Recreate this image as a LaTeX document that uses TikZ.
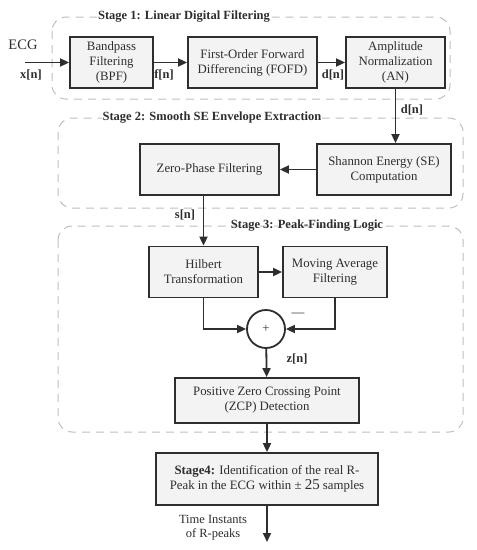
\documentclass[tikz,border=0pt]{standalone}
\usepackage{fontspec}
\setmainfont{Liberation Serif}
\usetikzlibrary{arrows.meta, positioning, calc}
\definecolor{cdark}{HTML}{2E2E2E}
\definecolor{cfill}{HTML}{F3F3F3}
\definecolor{cdash}{HTML}{BEBEBE}
\tikzset{
  every picture/.style={font=\fontsize{12.8}{15}\selectfont, line width=1.8pt, text=cdark},
  block/.style={draw=cdark, fill=cfill, align=center, inner sep=2pt, minimum height=51pt},
  stagebox/.style={draw=cdash, line width=1pt, dash pattern=on 8pt off 6pt, rounded corners=14pt},
  stagetitle/.style={font=\fontsize{12.5}{14}\selectfont\bfseries, inner sep=1pt},
  arrow/.style={-{Triangle[length=9pt, width=8pt]}, draw=cdark},
  sig/.style={font=\fontsize{12.5}{14}\selectfont\bfseries, inner sep=1pt},
}

\begin{document}
\begin{tikzpicture}[x=1pt, y=-1pt]
  \useasboundingbox (0,0) rectangle (477,550);
  % stage frames
  \draw[stagebox] (52,17) rectangle (450,99);
  \draw[stagebox] (58,118) rectangle (463,208);
  \draw[stagebox] (58,226) rectangle (463,432);
  \node[stagetitle, fill=white] (t1) at (184,17) {Stage 1: Linear Digital Filtering};
  \node[stagetitle, fill=white] (t2) at (212,118) {Stage 2: Smooth SE Envelope Extraction};
  \node[stagetitle] (t3) at (307,226) {Stage 3: Peak-Finding Logic};

  % stage 1
  \coordinate (in) at (25,62.5);
  \node (ecg) at (23,45) {\fontsize{14.5}{15}\selectfont ECG};
  \node[block, minimum width=83pt] (bpf) at (111.5,62.5) {Bandpass\\Filtering\\(BPF)};
  \node[block, minimum width=129pt] (fofd) at (252.5,62.5) {First-Order Forward\\Differencing (FOFD)};
  \node[block, minimum width=99pt] (an) at (395.5,62.5) {Amplitude\\Normalization\\(AN)};
  \draw[arrow] (in) -- (bpf);
  \draw[arrow] (bpf) -- (fofd);
  \draw[arrow] (fofd) -- (an);
  \node[sig] (xn) at (31,75) {x[n]};
  \node[sig] (fn) at (164,75) {f[n]};
  \node[sig] (dn) at (333,75) {d[n]};

  % stage 2
  \node[block, minimum width=134pt] (se) at (384,169.5) {Shannon Energy (SE)\\Computation};
  \node[block, minimum width=139pt] (zp) at (209.5,169.5) {Zero-Phase Filtering};
  \draw[arrow] (an.south) -- (an.south |- se.north);
  \node[sig] (dn2) at (412,110) {d[n]};
  \draw[arrow] (se) -- (zp);

  % stage 3
  \node[block, minimum width=109pt] (hil) at (203.5,272) {Hilbert\\Transformation};
  \node[block, minimum width=104pt] (mav) at (335,272) {Moving Average\\Filtering};
  \node[draw=cdark, circle, minimum size=38pt, inner sep=0pt] (sum) at (266,329) {+};
  \node[block, minimum width=184pt, minimum height=45pt] (zcp) at (267,400.5) {Positive Zero Crossing Point\\(ZCP) Detection};
  \draw[arrow] (hil.north |- zp.south) -- (hil.north);
  \node[sig] (sn) at (185,215) {s[n]};
  \draw[arrow] (hil) -- (mav);
  \draw[arrow] (hil.south) |- (sum.west);
  \draw[arrow] (mav.south) |- (sum.east);
  \node (minus) at (298,315) {---};
  \draw[arrow] (sum) -- (zcp);
  \node[sig] (zn) at (297,359) {z[n]};

  % stage 4
  \node[block, minimum width=222pt, minimum height=52pt] (peak) at (267,479) {\textbf{Stage4:} Identification of the real R-\\Peak in the ECG within ± {\fontsize{15}{15}\selectfont 25} samples};
  \coordinate (out) at (267,542);
  \draw[arrow] (zcp) -- (peak);
  \draw[arrow] (peak) -- (out);
  \node[align=center, font=\fontsize{12.5}{14}\selectfont] (tr) at (213,528) {Time Instants\\of R-peaks};
\end{tikzpicture}
\end{document}
